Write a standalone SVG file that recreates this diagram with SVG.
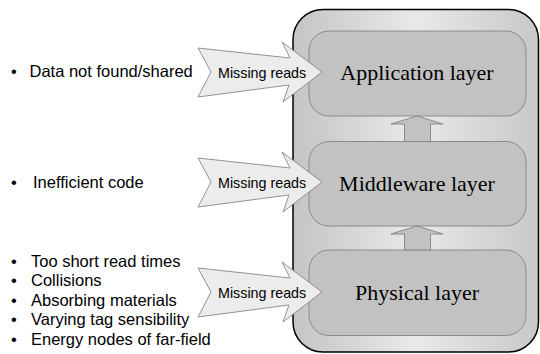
<svg xmlns="http://www.w3.org/2000/svg" width="540" height="354" viewBox="0 0 540 354">
<defs>
<linearGradient id="outerGrad" x1="0" y1="0" x2="1" y2="0">
<stop offset="0" stop-color="#c4c4c4"/>
<stop offset="0.5" stop-color="#e9e9e9"/>
<stop offset="1" stop-color="#c8c8c8"/>
</linearGradient>
<style>
.layer{fill:#c2c2c2;stroke:#8a8a8a;stroke-width:1}
.ltxt{font-family:"Liberation Serif","Times New Roman",serif;font-size:22px;fill:#000;text-anchor:middle}
.up{fill:#c2c2c2;stroke:#8a8a8a;stroke-width:1}
.miss{fill:#ececec;stroke:#7a7a7a;stroke-width:0.8}
.mtxt{font-family:"Liberation Sans",Arial,sans-serif;font-size:14.3px;fill:#000}
.btxt{font-family:"Liberation Sans",Arial,sans-serif;font-size:16.5px;fill:#000}
</style>
</defs>
<rect width="540" height="354" fill="#fff"/>
<g id="container">
<rect x="293" y="9.5" width="245.5" height="342.5" rx="30" ry="30" fill="url(#outerGrad)" stroke="#000" stroke-width="1.5"/>
</g>
<g id="application-layer">
<rect class="layer" x="309" y="31" width="217" height="85" rx="20" ry="20"/>
<text class="ltxt" x="417" y="80">Application layer</text>
</g>
<g id="middleware-layer">
<rect class="layer" x="309" y="141.5" width="217" height="84.5" rx="20" ry="20"/>
<text class="ltxt" x="417" y="190.5">Middleware layer</text>
</g>
<g id="physical-layer">
<rect class="layer" x="309" y="250" width="217" height="85.5" rx="20" ry="20"/>
<text class="ltxt" x="417" y="299.5">Physical layer</text>
</g>
<g id="connectors">
<polygon class="up" points="417,116 443,124 430.5,124 430.5,141.5 404.5,141.5 404.5,124 391,124"/>
<polygon class="up" points="417,226 443,234 430.5,234 430.5,250 404.5,250 404.5,234 391,234"/>
</g>
<g id="missing-reads-1">
<polygon class="miss" points="198,48 290,58 282,42 322,72 283,102 289,85 198,97 211,72"/>
<text class="mtxt" x="218" y="77.5">Missing reads</text>
</g>
<g id="missing-reads-2">
<polygon class="miss" points="198,158 290,168 282,152 322,182 283,212 289,195 198,207 211,182"/>
<text class="mtxt" x="218" y="187.5">Missing reads</text>
</g>
<g id="missing-reads-3">
<polygon class="miss" points="198,268 290,278 282,262 322,292 283,322 289,305 198,317 211,292"/>
<text class="mtxt" x="218" y="297.5">Missing reads</text>
</g>
<g id="causes-application">
<text class="btxt" x="11" y="77">•</text>
<text class="btxt" x="29.5" y="77">Data not found/shared</text>
</g>
<g id="causes-middleware">
<text class="btxt" x="11" y="187.5">•</text>
<text class="btxt" x="33" y="187.5">Inefficient code</text>
</g>
<g id="causes-physical">
<text class="btxt" x="11" y="266.5">•</text>
<text class="btxt" x="31" y="266.5">Too short read times</text>
<text class="btxt" x="11" y="286">•</text>
<text class="btxt" x="31" y="286">Collisions</text>
<text class="btxt" x="11" y="305.5">•</text>
<text class="btxt" x="31" y="305.5">Absorbing materials</text>
<text class="btxt" x="11" y="325">•</text>
<text class="btxt" x="31" y="325">Varying tag sensibility</text>
<text class="btxt" x="11" y="344.5">•</text>
<text class="btxt" x="31" y="344.5">Energy nodes of far-field</text>
</g>
</svg>
